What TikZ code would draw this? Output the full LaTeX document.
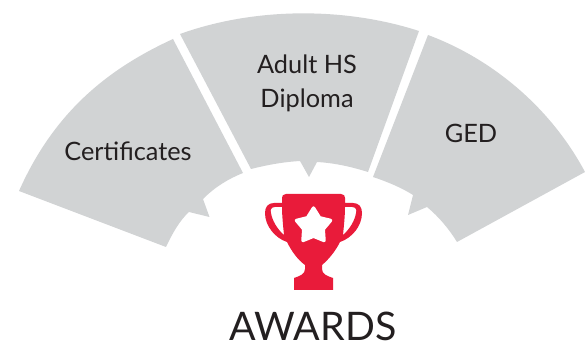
\documentclass[tikz,border=0pt]{standalone}
\usepackage{fontspec}
\setmainfont{Lato}
\usetikzlibrary{shapes.geometric}
\definecolor{wedgegrey}{HTML}{D1D3D4}
\definecolor{cupred}{HTML}{E91B3A}
\definecolor{labelblack}{HTML}{231F20}

\begin{document}
\begin{tikzpicture}[x=0.75pt,y=-0.75pt,
	wedge/.style={fill=wedgegrey},
	cup/.style={fill=cupred},
	label/.style={text=labelblack,font=\fontsize{19}{25.5}\selectfont,align=center,inner sep=0pt}]

\useasboundingbox (0,0) rectangle (585,348);

\fill[wedge] (19,191) .. controls (55,110) and (110,68) .. (173,39)
	-- (243,173) .. controls (228,179) and (215,187) .. (203,199)
	-- (209.5,217) -- (189,212) .. controls (180,220) and (172,234) .. (166,247) -- cycle;
\fill[wedge] (180,34) .. controls (255,7) and (345,7) .. (419,31)
	-- (368,172) .. controls (352,167) and (335,163) .. (317,162)
	-- (309,177) -- (300,161) .. controls (283,162) and (267,165) .. (251,169) -- cycle;
\fill[wedge] (428,35) .. controls (495,60) and (552,110) .. (585,172)
	-- (457,242) .. controls (449,229) and (439,217) .. (427,207)
	-- (408,215) -- (413,195) .. controls (402,188) and (388,182) .. (373,177) -- cycle;

\fill[cup,even odd rule] (286,194) -- (341,194) .. controls (344,194) and (345,196) .. (345,198)
	-- (345,203) -- (353,203) .. controls (359,203) and (362,207) .. (362,213)
	.. controls (362,226) and (352,238) .. (340,242)
	.. controls (335,252) and (328,260) .. (322,265)
	-- (322,269) .. controls (322,274) and (327,276) .. (333,278)
	-- (333,290) -- (294,290) -- (294,278)
	.. controls (300,276) and (305,274) .. (305,269)
	-- (305,265) .. controls (298,260) and (292,252) .. (287,242)
	.. controls (275,238) and (265,226) .. (265,213)
	.. controls (265,207) and (268,203) .. (274,203)
	-- (282,203) -- (282,198) .. controls (282,196) and (283,194) .. (286,194) -- cycle
	(282,207) -- (275,207) .. controls (271,207) and (270,210) .. (271,213)
	.. controls (272,220) and (277,229) .. (284,235) .. controls (283,225) and (282,215) .. (282,207) -- cycle
	(345,207) -- (352,207) .. controls (356,207) and (357,210) .. (356,213)
	.. controls (355,220) and (350,229) .. (343,235) .. controls (344,225) and (345,215) .. (345,207) -- cycle;

\node[star,star points=5,star point ratio=1.75,fill=white,draw=white,line width=2.5pt,line join=round,minimum size=27pt,inner sep=0pt] (prize) at (313.5,226) {};

\node[label] (certificates) at (128,151) {Certificates};
\node[label] (diploma) at (307,83) {Adult HS\\Diploma};
\node[label] (ged) at (471,133) {GED};
\node[label,font=\fontsize{29.5}{32}\selectfont] (awards) at (313,326.5) {AWARDS};

\end{tikzpicture}
\end{document}
